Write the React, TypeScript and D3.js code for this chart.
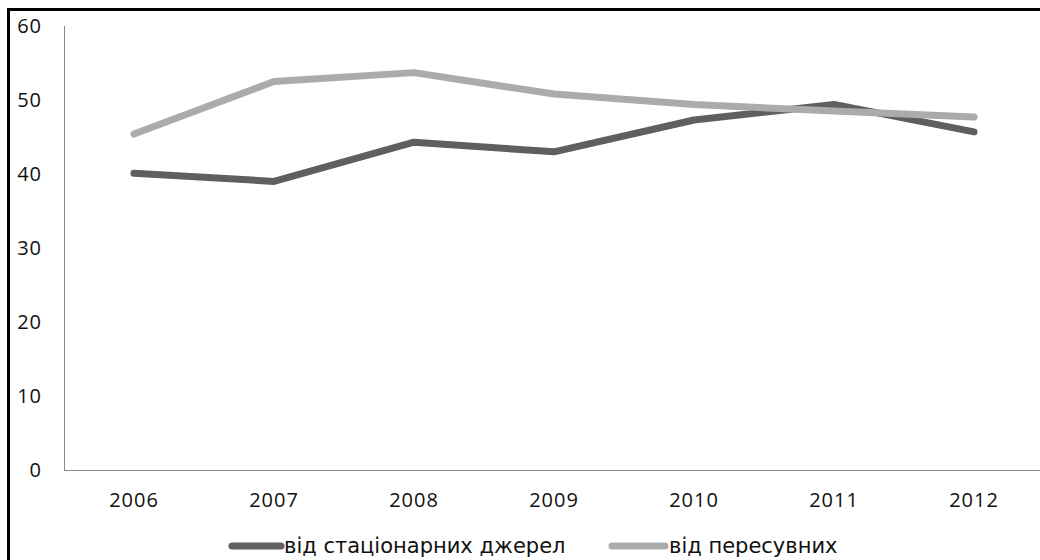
import * as d3 from 'd3';
import { useEffect, useRef } from 'react';

const years = ['2006', '2007', '2008', '2009', '2010', '2011', '2012'];
const stationary = [40.1, 39.0, 44.3, 43.0, 47.3, 49.4, 45.7];
const mobile = [45.4, 52.5, 53.7, 50.8, 49.4, 48.5, 47.7];
const yTicks = [0, 10, 20, 30, 40, 50, 60];
const seriesNames = ['від стаціонарних джерел', 'від пересувних'];
const seriesColors = ['#5f5f5f', '#ababab'];

export default function App() {
  const ref = useRef<SVGSVGElement | null>(null);
  useEffect(() => {
    if (!ref.current) return;
    const svg = d3.select(ref.current);
    svg.selectAll('*').remove();
    const width = 1040;
    const height = 560;
    const margin = { top: 26, left: 64, bottom: 470 };

    // frame (top and left edges visible)
    svg.append('line').attr('x1', 7).attr('x2', width).attr('y1', 9.5).attr('y2', 9.5)
      .attr('stroke', '#000').attr('stroke-width', 3);
    svg.append('line').attr('x1', 8.5).attr('x2', 8.5).attr('y1', 8).attr('y2', height)
      .attr('stroke', '#000').attr('stroke-width', 3);

    const x = d3.scaleBand<string>().domain(years).range([margin.left, margin.left + 980]).padding(0);
    const y = d3.scaleLinear().domain([0, 60]).range([margin.bottom, margin.top]);
    const cx = (d: string) => (x(d) || 0) + x.bandwidth() / 2;

    const font = '"Open Sans", sans-serif';

    // axes
    svg.append('line').attr('x1', margin.left + 0.5).attr('x2', margin.left + 0.5)
      .attr('y1', y(60)).attr('y2', y(0)).attr('stroke', '#8a8a8a').attr('stroke-width', 1);
    svg.append('line').attr('x1', margin.left).attr('x2', width)
      .attr('y1', y(0) + 0.5).attr('y2', y(0) + 0.5).attr('stroke', '#8a8a8a').attr('stroke-width', 1);

    svg.append('g').selectAll('text').data(yTicks).enter().append('text')
      .attr('x', 42).attr('y', (d) => y(d)).attr('dy', '0.36em')
      .attr('text-anchor', 'end').attr('font-family', font).attr('font-size', 20)
      .attr('letter-spacing', 1).attr('fill', '#111').text((d) => String(d));

    svg.append('g').selectAll('text').data(years).enter().append('text')
      .attr('x', (d) => cx(d)).attr('y', 507)
      .attr('text-anchor', 'middle').attr('font-family', font).attr('font-size', 20)
      .attr('letter-spacing', 1).attr('fill', '#111').text((d) => d);

    // lines
    const line = d3.line<number>().x((_, i) => cx(years[i])).y((d) => y(d));
    [stationary, mobile].forEach((s, i) => {
      svg.append('path').datum(s).attr('d', line).attr('fill', 'none')
        .attr('stroke', seriesColors[i]).attr('stroke-width', 7)
        .attr('stroke-linecap', 'round').attr('stroke-linejoin', 'round');
    });

    // legend
    const legendItems = [
      { x0: 232, x1: 281, tx: 284 },
      { x0: 612, x1: 665, tx: 669 },
    ];
    legendItems.forEach((it, i) => {
      svg.append('line').attr('x1', it.x0).attr('x2', it.x1).attr('y1', 546).attr('y2', 546)
        .attr('stroke', seriesColors[i]).attr('stroke-width', 7).attr('stroke-linecap', 'round');
      svg.append('text').attr('x', it.tx).attr('y', 553)
        .attr('font-family', '"DejaVu Sans", sans-serif').attr('font-size', 21)
        .attr('fill', '#111').text(seriesNames[i]);
    });
  }, []);

  return (
    <svg
      ref={ref}
      width={1040}
      height={560}
      style={{ position: 'absolute', left: 0, top: 0, background: '#fff' }}
    />
  );
}
